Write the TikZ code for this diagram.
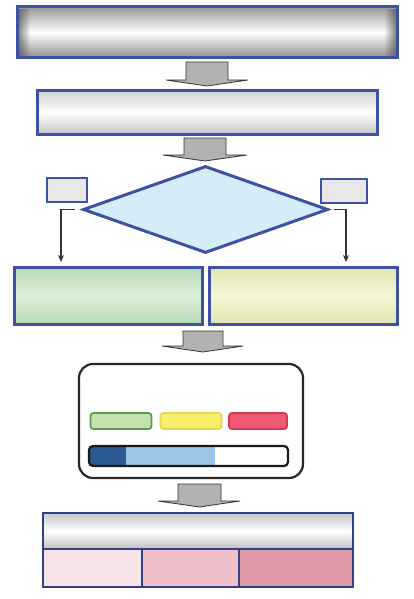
\documentclass[tikz,border=0pt]{standalone}
\usetikzlibrary{shapes.geometric,arrows.meta,fadings}
\definecolor{bb}{HTML}{3F51A3}
\definecolor{dblue}{HTML}{2B5A93}
\definecolor{lblue}{HTML}{9DC5E5}
\definecolor{diafill}{HTML}{D5EDF8}
\definecolor{pk1}{HTML}{F6E3E8}
\definecolor{pk2}{HTML}{F0BFCB}
\definecolor{pk3}{HTML}{DE98A7}
\definecolor{gedge}{HTML}{B4D9B4}
\definecolor{gmid}{HTML}{E0F0DA}
\definecolor{yedge}{HTML}{E3E3AE}
\definecolor{ymid}{HTML}{F6F6D8}
\definecolor{pgfill}{HTML}{C3E1AC}
\definecolor{pgdraw}{HTML}{5E9A4E}
\definecolor{pyfill}{HTML}{F5EF6C}
\definecolor{pydraw}{HTML}{E6D84E}
\definecolor{prfill}{HTML}{EE5A73}
\definecolor{prdraw}{HTML}{D23A52}
\begin{document}
\begin{tikzpicture}[x=1pt,y=-1pt,
  bar/.style={draw=bb,line width=3pt,inner sep=0pt,rectangle},
  steelbar/.style={bar,top color=gray!80,bottom color=gray!90,middle color=white},
  lightbar/.style={bar,top color=gray!35,bottom color=gray!45,middle color=white},
  tag/.style={draw=bb,line width=2.4pt,fill=gray!18,inner sep=0pt,minimum width=40pt,minimum height=24pt},
  pill/.style={line width=1.8pt,rounded corners=3pt,inner sep=0pt,minimum width=61pt,minimum height=16pt},
  blockarrow/.style={fill=gray!60,draw=gray!40!black,line width=0.8pt,line join=miter},
  conn/.style={draw=black!80,line width=1.3pt,-{Stealth[length=7pt,width=6pt]}}
]
\useasboundingbox (0,0) rectangle (414,599);
\fill[white] (0,0) rectangle (414,599);

% top bars
\node[steelbar,minimum width=380pt,minimum height=51pt] (top) at (207,32.5) {};
\fill[gray!50!black,path fading=east,opacity=0.6] (18.5,9) rectangle (30,56);
\fill[gray!50!black,path fading=west,opacity=0.6] (384,9) rectangle (395.5,56);
\node[lightbar,minimum width=340pt,minimum height=43pt] (second) at (207,112.5) {};

% block arrows
\newcommand{\blockarr}[6]{% x1 x2 ytop ywing wl wr
  \path[blockarrow] (#1,#3) -- (#2,#3) -- (#2,#4) -- (#6,#4) -- ({(#1+#2)/2},#4+6) -- (#5,#4) -- (#1,#4) -- cycle;}
\blockarr{186}{228}{62}{80}{166}{248}
\blockarr{184}{226}{138}{155}{163}{247}
\blockarr{183}{223}{331}{346}{162}{243}
\blockarr{178}{221}{484}{501}{158}{240}

% decision
\node[diamond,draw=bb,line width=3pt,fill=diafill,minimum width=245pt,minimum height=87pt,inner sep=0pt] (dec) at (205.5,209.5) {};
\node[tag] (ltag) at (67,190) {};
\node[tag,minimum width=46pt] (rtag) at (344,191) {};

% result boxes
\node[bar,minimum width=188pt,minimum height=57pt,top color=gedge,bottom color=gedge,middle color=gmid] (gbox) at (108,295.5) {};
\node[bar,minimum width=188pt,minimum height=57pt,top color=yedge,bottom color=yedge,middle color=ymid] (ybox) at (303,295.5) {};

\coordinate (lend) at (61,262);
\coordinate (rend) at (346,262);
\draw[conn] ([xshift=-7pt]dec.west) -| (lend);
\draw[conn] ([xshift=4pt]dec.east) -| (rend);

% status panel
\node[draw=black!85,line width=2.2pt,rounded corners=14pt,minimum width=224pt,minimum height=114pt,inner sep=0pt] (panel) at (191,421) {};
\node[pill,draw=pgdraw,fill=pgfill] (pg) at (121,421) {};
\node[pill,draw=pydraw,fill=pyfill] (py) at (191,421) {};
\node[pill,minimum width=58pt,draw=prdraw,fill=prfill] (pr) at (258,421) {};
\begin{scope}
\clip[rounded corners=4pt] (89,446) rectangle (288,466);
\fill[dblue] (89,446) rectangle (126,466);
\fill[lblue] (126,446) rectangle (215,466);
\end{scope}
\node[draw=black!90,line width=2.2pt,rounded corners=4pt,minimum width=199pt,minimum height=20pt,inner sep=0pt] (prog) at (188.5,456) {};

% bottom table
\node[bar,line width=2pt,draw=bb!80!black,minimum width=310pt,minimum height=36pt,top color=gray!45,bottom color=gray!50,middle color=white] (tbl) at (198,531) {};
\node[bar,line width=2pt,draw=bb!80!black,fill=pk1,minimum width=99pt,minimum height=38pt] (c1) at (92.5,568) {};
\node[bar,line width=2pt,draw=bb!80!black,fill=pk2,minimum width=97pt,minimum height=38pt] (c2) at (190.5,568) {};
\node[bar,line width=2pt,draw=bb!80!black,fill=pk3,minimum width=114pt,minimum height=38pt] (c3) at (296,568) {};
\end{tikzpicture}
\end{document}
